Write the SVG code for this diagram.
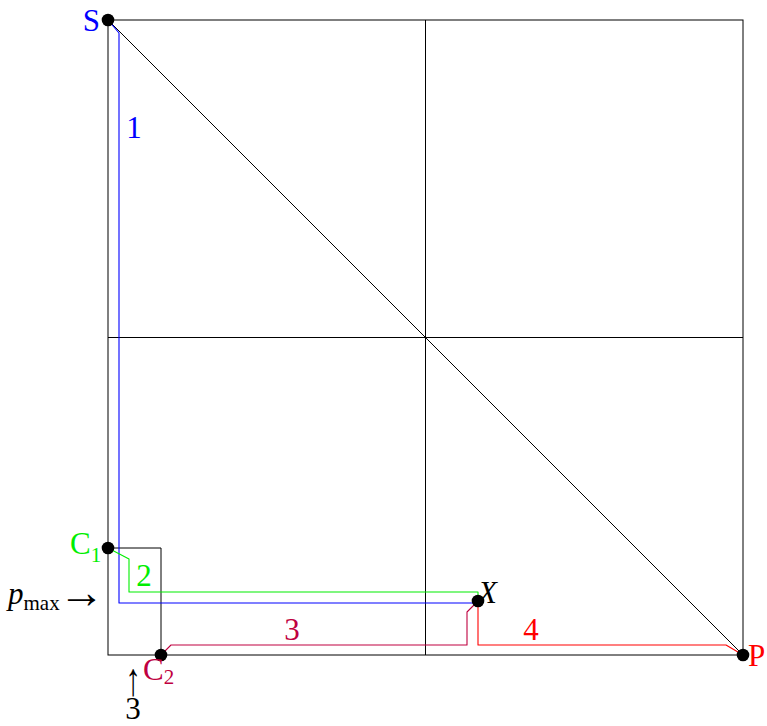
<svg xmlns="http://www.w3.org/2000/svg" width="767" height="726" viewBox="0 0 767 726">
<style>
.ln{fill:none;stroke:#000;stroke-width:1}
.pth{fill:none;stroke-width:1.1;stroke-linejoin:round}
.dot{fill:#000}
text{font-family:"Liberation Serif","DejaVu Serif",serif;font-size:31px}
.sub{font-size:21px}
.arr{font-size:46px}
</style>
<rect width="767" height="726" fill="#fff"/>
<g id="grid">
<rect class="ln" x="108" y="20" width="635" height="635"/>
<line class="ln" x1="425.5" y1="20" x2="425.5" y2="655"/>
<line class="ln" x1="108" y1="337.5" x2="743" y2="337.5"/>
<line class="ln" x1="108" y1="20" x2="743" y2="655"/>
<polyline class="ln" points="108,548 161,548 161,655"/>
</g>
<g id="connectors">
<polyline class="pth" stroke="#0000ff" points="108,20 119,33 119,603 478,603"/>
<polyline class="pth" stroke="#00ee00" points="108,548 129,559 129,592 478,592 478,601"/>
<polyline class="pth" stroke="#bf0040" points="161,655 171,645 467,645 467,612 478,601"/>
<polyline class="pth" stroke="#ff0000" points="478,601 478,645 726,645 743,655"/>
</g>
<g id="labels">
<text x="134" y="138" fill="#0000ff" text-anchor="middle">1</text>
<text x="144" y="586" fill="#00ee00" text-anchor="middle">2</text>
<text x="292" y="640" fill="#bf0040" text-anchor="middle">3</text>
<text x="531" y="640" fill="#ff0000" text-anchor="middle">4</text>
</g>
<g id="S"><circle class="dot" cx="108" cy="20" r="6.3"/><text x="100" y="31" fill="#0000ff" text-anchor="end">S</text></g>
<g id="C1"><circle class="dot" cx="108" cy="548" r="6.3"/><text x="70" y="554" fill="#00ee00">C<tspan class="sub" dy="8">1</tspan></text></g>
<g id="C2"><circle class="dot" cx="161" cy="655" r="6.3"/><text x="143" y="680" fill="#bf0040">C<tspan class="sub" dy="4">2</tspan></text></g>
<g id="X"><circle class="dot" cx="478" cy="601" r="6.3"/><text x="478" y="603" fill="#000" font-style="italic">X</text></g>
<g id="P"><circle class="dot" cx="743" cy="655" r="6.3"/><text x="748" y="666" fill="#ff0000">P</text></g>
<g id="pmax"><text x="8" y="604" fill="#000"><tspan font-style="italic">p</tspan><tspan class="sub" dy="6">max</tspan><tspan class="arr" dx="-1" dy="-2">→</tspan></text></g>
<g id="three"><text transform="translate(133,695) scale(1,1.5)" fill="#000" text-anchor="middle">↑</text><text x="133" y="719" fill="#000" text-anchor="middle">3</text></g>
</svg>
